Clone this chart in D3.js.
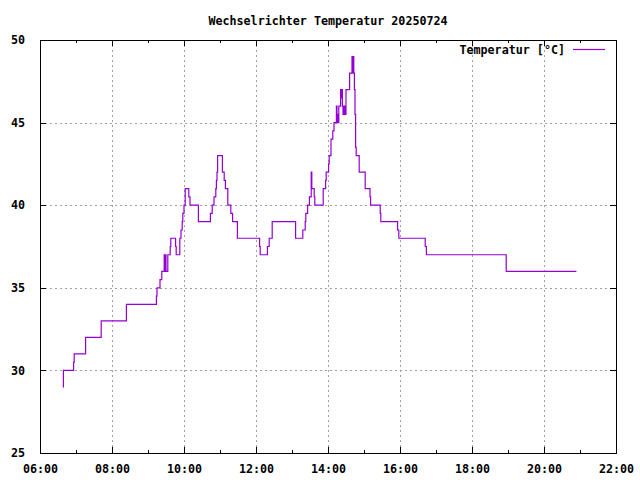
<!DOCTYPE html>
<html>
<head>
<meta charset="utf-8">
<script src="https://cdn.jsdelivr.net/npm/d3@7"></script>
<style>
    body { margin: 0; background: #fff; }
    text { font-family: 'DejaVu Sans Mono', monospace; font-size: 11.7px; font-weight: bold; fill: #000; }
</style>
</head>
<body>
<div id="vis"></div>
<script>
var title = 'Wechselrichter Temperatur 20250724';
var seriesName = 'Temperatur [°C]';

// change points of the logged temperature (time of day, °C)
var times = ['06:38', '06:39', '06:56', '06:57', '07:16', '07:42', '08:24', '09:14', '09:15', '09:20',
    '09:23', '09:27', '09:28', '09:29', '09:30', '09:33', '09:37', '09:38', '09:46', '09:47',
    '09:53', '09:55', '09:57', '09:58', '10:00', '10:02', '10:08', '10:10', '10:24', '10:44',
    '10:47', '10:50', '10:53', '10:54', '10:55', '10:56', '11:04', '11:07', '11:09', '11:13',
    '11:18', '11:21', '11:29', '12:06', '12:07', '12:19', '12:22', '12:27', '13:06', '13:18',
    '13:22', '13:23', '13:26', '13:29', '13:32', '13:33', '13:37', '13:38', '13:52', '13:56',
    '13:57', '14:01', '14:02', '14:05', '14:08', '14:10', '14:14', '14:15', '14:16', '14:17',
    '14:18', '14:21', '14:22', '14:23', '14:24', '14:25', '14:26', '14:28', '14:30', '14:36',
    '14:40', '14:41', '14:42', '14:43', '14:44', '14:45', '14:46', '14:47', '14:52', '15:02',
    '15:10', '15:11', '15:27', '15:28', '15:56', '15:58', '16:42', '16:44', '18:57', '20:54'];
var temps = [29, 30, 30.5, 31, 32, 33, 34, 34.5, 35, 35.5,
    36, 37, 36, 37, 36, 37, 37.5, 38, 37.5, 37,
    38, 38.5, 39, 39.5, 40, 41, 40.5, 40, 39, 39.5,
    40, 40.5, 41, 41.5, 42, 43, 42, 41.5, 41, 40,
    39.5, 39, 38, 37.5, 37, 37.5, 38, 39, 38, 38.5,
    39, 39.5, 40, 40.5, 42, 41, 40.5, 40, 41, 41.5,
    42, 42.5, 43, 44, 44.5, 45, 46, 45, 45.5, 45,
    46, 47, 46.5, 47, 46, 45.5, 46, 45.5, 47, 48,
    49, 48, 49, 48, 47, 45.5, 43.5, 43, 42, 41,
    40.5, 40, 39.5, 39, 38.5, 38, 37.5, 37, 36, 36];

var yTicks = [25, 30, 35, 40, 45, 50];
var xTickLabels = ['06:00', '08:00', '10:00', '12:00', '14:00', '16:00', '18:00', '20:00', '22:00'];

var parseTime = d3.timeParse('%Y-%m-%d %H:%M');
var day = '2025-07-24 ';

var data = times.map(function(t, i) {
    return { time: parseTime(day + t), temp: temps[i] };
});

var svgW = 640, svgH = 480;
var margin = { left: 40, right: 24, top: 40, bottom: 27 };
var width = svgW - margin.left - margin.right;
var height = svgH - margin.top - margin.bottom;

var svg = d3.select('#vis')
    .append('svg')
    .attr('width', svgW)
    .attr('height', svgH);

var xScale = d3.scaleTime()
    .domain([parseTime(day + xTickLabels[0]), parseTime(day + xTickLabels[xTickLabels.length - 1])])
    .range([0, width]);
var yScale = d3.scaleLinear()
    .domain([yTicks[0], yTicks[yTicks.length - 1]])
    .range([height, 0]);

var majorX = xTickLabels.map(function(t) { return parseTime(day + t); });
var minorX = d3.timeHour.range(majorX[0], majorX[majorX.length - 1]).filter(function(d) { return d.getHours() % 2 === 1; });

var g = svg.append('g')
    .attr('transform', 'translate(' + margin.left + ',' + margin.top + ')');

// grid
var grid = g.append('g')
    .attr('stroke', '#a0a0a0')
    .attr('stroke-width', 1)
    .attr('stroke-dasharray', '2,3')
    .attr('shape-rendering', 'crispEdges');
grid.selectAll('.gx').data(majorX.slice(1, -1)).enter().append('line')
    .attr('x1', function(d) { return Math.round(xScale(d)) + 0.5; })
    .attr('x2', function(d) { return Math.round(xScale(d)) + 0.5; })
    .attr('y1', 0).attr('y2', height);
grid.selectAll('.gy').data(yTicks.slice(1, -1)).enter().append('line')
    .attr('y1', function(d) { return Math.round(yScale(d)) + 0.5; })
    .attr('y2', function(d) { return Math.round(yScale(d)) + 0.5; })
    .attr('x1', 0).attr('x2', width);

// axes, ticks mirrored and pointing inwards like gnuplot
var fmt = d3.timeFormat('%H:%M');
var xAxis = d3.axisBottom(xScale).tickValues(majorX).tickFormat(fmt).tickSizeInner(-6).tickSizeOuter(0).tickPadding(12);
var xTop = d3.axisTop(xScale).tickValues(majorX).tickFormat('').tickSizeInner(-6).tickSizeOuter(0);
var xMinor = d3.axisBottom(xScale).tickValues(minorX).tickFormat('').tickSizeInner(-3).tickSizeOuter(0);
var xMinorTop = d3.axisTop(xScale).tickValues(minorX).tickFormat('').tickSizeInner(-3).tickSizeOuter(0);
var yAxis = d3.axisLeft(yScale).tickValues(yTicks).tickSizeInner(-6).tickSizeOuter(0).tickPadding(15);
var yRight = d3.axisRight(yScale).tickValues(yTicks).tickFormat('').tickSizeInner(-6).tickSizeOuter(0);

g.append('g').attr('class', 'axes').attr('transform', 'translate(0,' + height + ')').call(xAxis);
g.append('g').attr('class', 'axes').call(xTop);
g.append('g').attr('class', 'axes').attr('transform', 'translate(0,' + height + ')').call(xMinor);
g.append('g').attr('class', 'axes').call(xMinorTop);
g.append('g').attr('class', 'axes').call(yAxis);
g.append('g').attr('class', 'axes').attr('transform', 'translate(' + width + ',0)').call(yRight);

g.selectAll('.axes .domain').remove();
g.selectAll('.axes line').attr('stroke', '#000').attr('shape-rendering', 'crispEdges');
g.selectAll('.axes text').attr('font-family', null).attr('font-size', null).attr('fill', null);

g.append('rect')
    .attr('x', 0.5).attr('y', 0.5)
    .attr('width', width).attr('height', height)
    .attr('fill', 'none')
    .attr('stroke', '#000')
    .attr('shape-rendering', 'crispEdges');

// the series
var line = d3.line()
    .x(function(d) { return xScale(d.time); })
    .y(function(d) { return yScale(d.temp); })
    .curve(d3.curveStepAfter);

g.append('path')
    .datum(data)
    .attr('d', line)
    .attr('fill', 'none')
    .attr('stroke', '#9400d3')
    .attr('stroke-width', 1.2);

// title
svg.append('text')
    .attr('x', margin.left + width / 2)
    .attr('y', 25)
    .style('text-anchor', 'middle')
    .text(title);

// legend
svg.append('text')
    .attr('x', 565)
    .attr('y', 54)
    .style('text-anchor', 'end')
    .text(seriesName);
svg.append('line')
    .attr('x1', 573).attr('x2', 605)
    .attr('y1', 49.5).attr('y2', 49.5)
    .attr('stroke', '#9400d3')
    .attr('stroke-width', 1.2);
</script>
</body>
</html>
